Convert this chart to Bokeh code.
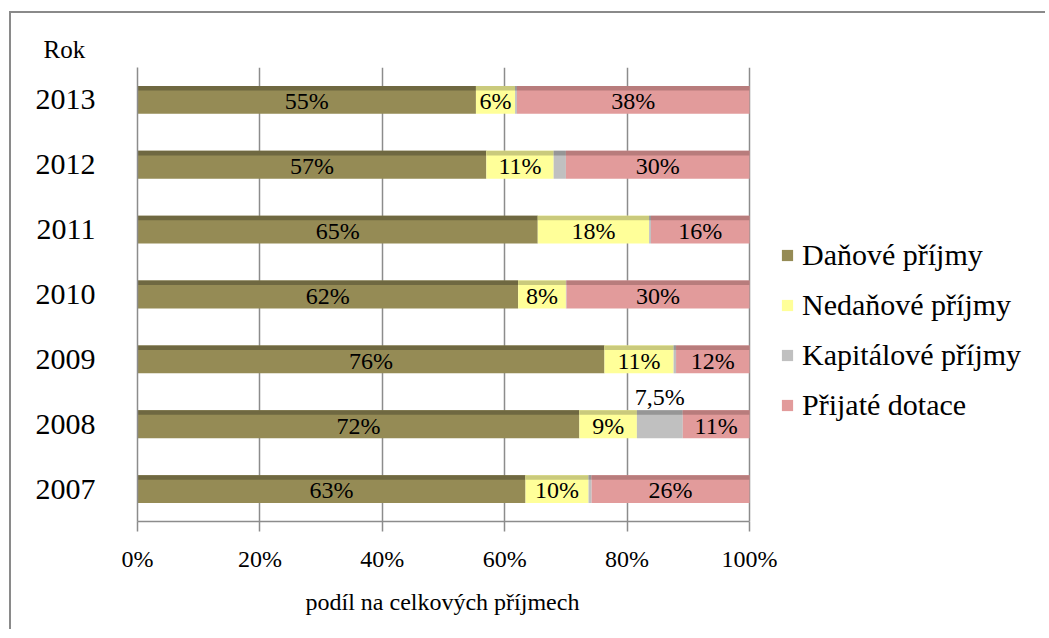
from bokeh.plotting import figure
from bokeh.models import ColumnDataSource, Legend, LegendItem, FixedTicker, PrintfTickFormatter, Title
from bokeh.transform import dodge
from bokeh.core.properties import value
from bokeh.embed import file_html
from bokeh.resources import INLINE

years = ["2007", "2008", "2009", "2010", "2011", "2012", "2013"]
danove = [63.4, 72.2, 76.3, 62.2, 65.4, 57.0, 55.3]
nedanove = [10.3, 9.4, 11.3, 7.8, 18.2, 11.0, 6.4]
kapitalove = [0.5, 7.5, 0.4, 0.1, 0.3, 2.0, 0.3]
dotace = [25.8, 10.9, 12.0, 29.9, 16.1, 30.0, 38.0]
series_names = ["Daňové příjmy", "Nedaňové příjmy", "Kapitálové příjmy", "Přijaté dotace"]
x_ticks = [0, 20, 40, 60, 80, 100]
y_title = "Rok"
x_title = "podíl na celkových příjmech"

FONT = "Liberation Serif"
colors = ["#958B55", "#FFFF99", "#C0C0C0", "#E29B9B"]
top_colors = ["#6F6841", "#CACA7C", "#969696", "#B87C7C"]
series = [danove, nedanove, kapitalove, dotace]
totals = [sum(v) for v in zip(*series)]

# frame spans 910 px; the 0-100 % scale takes 612 px of it, the rest holds the legend
FRAME_W = 910
p = figure(width=1036, height=618, y_range=years, x_range=(0, 100 * FRAME_W / 612),
           output_backend="svg", toolbar_location=None,
           min_border_left=126, min_border_right=0,
           min_border_top=54, min_border_bottom=110)
p.margin = (11, 0, 0, 9)
p.styles = {"border-top": "2px solid #8a8a8a", "border-left": "2px solid #8a8a8a"}

p.outline_line_color = None
p.background_fill_color = "white"
p.ygrid.grid_line_color = None
p.xgrid.ticker = FixedTicker(ticks=x_ticks)
p.xgrid.grid_line_color = "#8c8c8c"
p.xgrid.grid_line_width = 1.5

xa = p.xaxis[0]
xa.bounds = (0, 100)
xa.ticker = FixedTicker(ticks=x_ticks)
xa.formatter = PrintfTickFormatter(format="%d%%")
xa.axis_line_color = "#8c8c8c"
xa.axis_line_width = 1.5
xa.major_tick_line_color = "#8c8c8c"
xa.major_tick_line_width = 1.5
xa.major_tick_out = 10
xa.major_tick_in = 0
xa.minor_tick_line_color = None
xa.major_label_standoff = 14
xa.major_label_text_font = FONT
xa.major_label_text_font_size = "24px"
xa.major_label_text_color = "black"

ya = p.yaxis[0]
ya.axis_line_color = "#8c8c8c"
ya.axis_line_width = 1.5
ya.major_tick_line_color = None
ya.minor_tick_line_color = None
ya.major_label_standoff = 36
ya.major_label_text_font = FONT
ya.major_label_text_font_size = "30px"
ya.major_label_text_color = "black"

p.title.text = y_title
p.title.align = "left"
p.title.offset = -94
p.title.text_font = FONT
p.title.text_font_size = "25px"
p.title.text_font_style = "normal"
p.title.text_color = "black"
p.title.standoff = 10

# x-axis title centred under the 0-100 % scale
xt = Title(text=x_title, align="left", offset=168, standoff=25,
           text_font=FONT, text_font_size="24px", text_font_style="normal",
           text_color="black")
p.add_layout(xt, "below")

legend_items = []
left = [0.0] * len(years)
for i, (name, vals) in enumerate(zip(series_names, series)):
    share = [v / t * 100 for v, t in zip(vals, totals)]
    right = [l + s for l, s in zip(left, share)]
    mid = [(l + r) / 2 for l, r in zip(left, right)]
    src = ColumnDataSource(dict(year=years, left=left, right=right, mid=mid, share=share))
    r = p.hbar(y="year", left="left", right="right", height=0.43, source=src,
               fill_color=colors[i], line_color=None)
    p.hbar(y=dodge("year", 0.18, range=p.y_range), left="left", right="right",
           height=0.07, source=src, fill_color=top_colors[i], line_color=None)
    legend_items.append(LegendItem(label=name, renderers=[r]))
    if i != 2:
        lab = ColumnDataSource(dict(year=years, mid=mid,
                                    txt=[f"{round(s)}%" for s in share]))
        p.text(x="mid", y=dodge("year", -0.02, range=p.y_range), text="txt", source=lab,
               text_font=value(FONT), text_font_size="24px", text_color="black",
               text_align="center", text_baseline="middle")
    else:
        ys = [y for y, s in zip(years, share) if s >= 5]
        xs = [m for m, s in zip(mid, share) if s >= 5]
        ts = [f"{s:.1f}".replace(".", ",") + "%" for s in share if s >= 5]
        lab = ColumnDataSource(dict(year=ys, mid=xs, txt=ts))
        p.text(x="mid", y=dodge("year", 0.42, range=p.y_range), text="txt", source=lab,
               text_font=value(FONT), text_font_size="24px", text_color="black",
               text_align="center", text_baseline="middle")
    left = right

legend = Legend(items=legend_items, location=(643, 99), orientation="vertical",
                border_line_color=None, background_fill_alpha=0,
                label_text_font=FONT, label_text_font_size="30px",
                label_text_color="black", glyph_width=14, glyph_height=14,
                label_height=34, spacing=16, label_standoff=8, padding=0, margin=0)
p.add_layout(legend, "center")

open("out.html", "w").write(file_html(p, INLINE))
